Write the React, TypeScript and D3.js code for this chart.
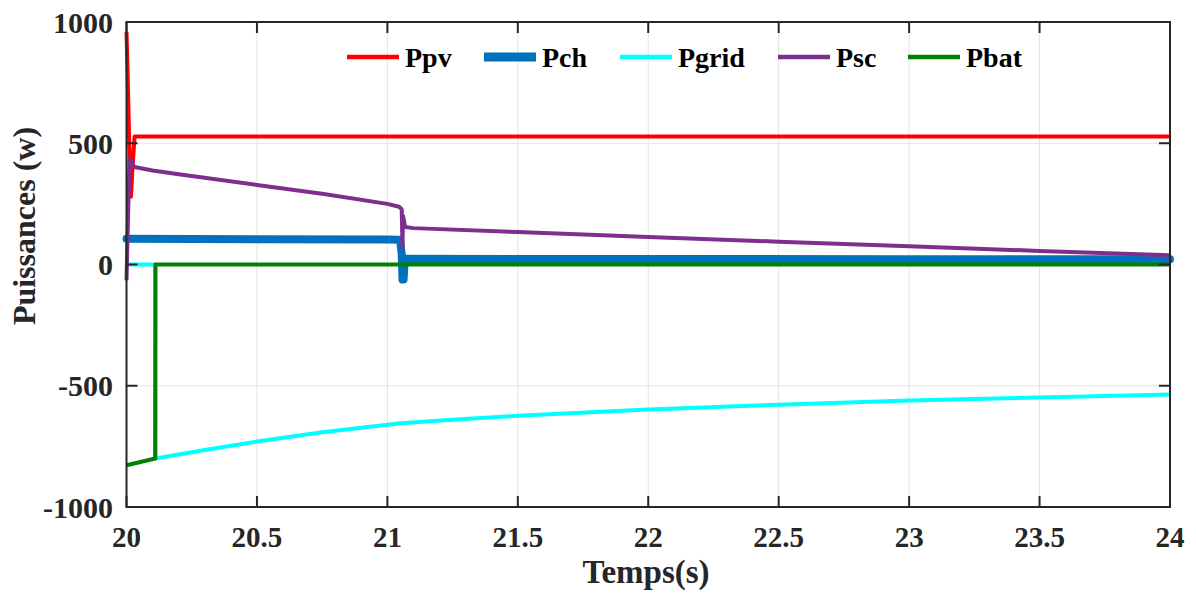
import React from "react";
import * as d3 from "d3";

type Pt = [number, number];

const xTicks = [20, 20.5, 21, 21.5, 22, 22.5, 23, 23.5, 24];
const yTicks = [-1000, -500, 0, 500, 1000];

const ppv: Pt[] = [
  [20, 960], [20.004, 800], [20.01, 520], [20.017, 280], [20.022, 380], [20.031, 528], [20.06, 528], [24, 528],
];
const pch: Pt[] = [
  [20, 106], [20.5, 104], [21.0, 103], [21.045, 102], [21.05, 90], [21.055, 40], [21.058, -62],
  [21.062, -62], [21.066, 10], [21.072, 24], [21.5, 23], [22, 23], [23, 22], [24, 22],
];
const pgrid: Pt[] = [
  [20, 0], [20.11, 0], [20.111, -800], [20.3, -765], [20.5, -730], [20.75, -692], [21.05, -655],
  [21.25, -640], [21.5, -624], [22, -598], [22.5, -578], [23, -561], [23.5, -548], [24, -536],
];
const psc: Pt[] = [
  [20, -65], [20.006, 200], [20.012, 437], [20.03, 402], [20.1, 388], [20.2, 372], [20.5, 328],
  [20.75, 292], [21.0, 250], [21.045, 238], [21.055, 228], [21.058, 70], [21.06, 200], [21.068, 155],
  [21.1, 150], [21.5, 134], [22, 113], [22.5, 94], [23, 75], [23.5, 56], [24, 38],
];
const pbat: Pt[] = [
  [20, -828], [20.11, -800], [20.111, 0], [24, 0],
];

const series = [
  { name: "Ppv", data: ppv, color: "#ff0000", width: 4 },
  { name: "Pch", data: pch, color: "#0072bd", width: 8 },
  { name: "Pgrid", data: pgrid, color: "#00ffff", width: 4 },
  { name: "Psc", data: psc, color: "#7e2f8e", width: 4 },
  { name: "Pbat", data: pbat, color: "#008000", width: 4 },
];

const legendX = [347, 484, 620, 778, 908];

export default function App() {
  const W = 1196, H = 593;
  const L = 126.5, R = 1170, T = 22, B = 507;
  const x = d3.scaleLinear().domain([20, 24]).range([L, R]);
  const y = d3.scaleLinear().domain([-1000, 1000]).range([B, T]);
  const line = d3.line<Pt>().x(d => x(d[0])).y(d => y(d[1]));
  const font = "'Liberation Serif', 'Times New Roman', serif";
  const axisColor = "#262626";
  const tl = 11;
  return (
    <svg width={W} height={H} style={{ position: "absolute", left: 0, top: 0, background: "#fff" }}
      fontFamily={font} fontWeight="bold">
      <rect x={0} y={0} width={W} height={H} fill="#fff" />
      {xTicks.map(t => (
        <line key={"gx" + t} x1={x(t)} x2={x(t)} y1={T} y2={B} stroke="#e3e3e3" strokeWidth={1} />
      ))}
      {yTicks.map(t => (
        <line key={"gy" + t} x1={L} x2={R} y1={y(t)} y2={y(t)} stroke="#e3e3e3" strokeWidth={1} />
      ))}
      {series.map(s => (
        <path key={s.name} d={line(s.data) || ""} fill="none" stroke={s.color} strokeWidth={s.width}
          strokeLinejoin="round" strokeLinecap={s.name === "Pch" ? "round" : "butt"} />
      ))}
      <rect x={L} y={T} width={R - L} height={B - T} fill="none" stroke={axisColor} strokeWidth={2} />
      {xTicks.map(t => (
        <g key={"tx" + t}>
          <line x1={x(t)} x2={x(t)} y1={B} y2={B - tl} stroke={axisColor} strokeWidth={2} />
          <line x1={x(t)} x2={x(t)} y1={T} y2={T + tl} stroke={axisColor} strokeWidth={2} />
          <text x={x(t)} y={547} textAnchor="middle" fontSize={29} fill={axisColor}>{String(t)}</text>
        </g>
      ))}
      {yTicks.map(t => (
        <g key={"ty" + t}>
          <line x1={L} x2={L + tl} y1={y(t)} y2={y(t)} stroke={axisColor} strokeWidth={2} />
          <line x1={R} x2={R - tl} y1={y(t)} y2={y(t)} stroke={axisColor} strokeWidth={2} />
          <text x={113} y={y(t)} dy="0.35em" textAnchor="end" fontSize={30} fill={axisColor}>{String(t)}</text>
        </g>
      ))}
      <text x={646} y={583} textAnchor="middle" fontSize={33} fill={axisColor}>Temps(s)</text>
      <text transform={`translate(35,226) rotate(-90)`} textAnchor="middle" fontSize={32} fill={axisColor}>Puissances (w)</text>
      {series.map((s, i) => (
        <g key={"lg" + s.name}>
          <line x1={legendX[i]} x2={legendX[i] + 52} y1={57} y2={57} stroke={s.color} strokeWidth={s.width === 8 ? 9 : 4.5} />
          <text x={legendX[i] + 58} y={67} fontSize={28} fill="#000">{s.name}</text>
        </g>
      ))}
    </svg>
  );
}
